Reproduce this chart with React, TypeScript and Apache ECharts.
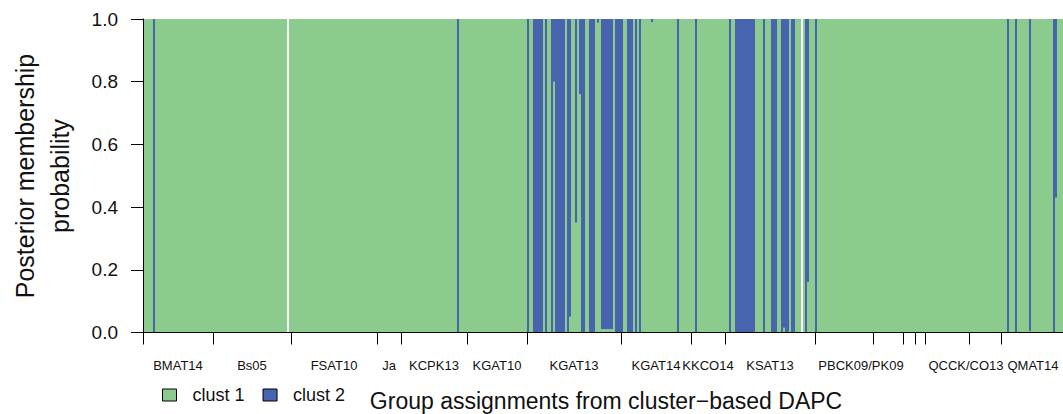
import React, { useEffect, useRef } from "react";
import * as echarts from "echarts";

// ---- data ----
const N_INDIVIDUALS = 460;
// runs of individuals with non-zero clust 2 membership: [first index, count, clust 2 probability]
const clust2Runs: [number, number, number][] = [
  [5, 1, 1],
  [157, 1, 1],
  [192, 1, 1],
  [195, 5, 1],
  [201, 1, 1],
  [204, 1, 1],
  [205, 1, 0.2],
  [206, 5, 1],
  [212, 1, 1],
  [213, 1, 0.95],
  [216, 1, 0.65],
  [218, 1, 0.24],
  [219, 2, 1],
  [223, 3, 1],
  [227, 1, 0.012],
  [229, 6, 0.99],
  [236, 4, 1],
  [242, 3, 1],
  [246, 1, 1],
  [248, 1, 1],
  [254, 1, 0.01],
  [267, 1, 1],
  [276, 1, 1],
  [293, 1, 1],
  [296, 10, 1],
  [310, 1, 1],
  [314, 3, 1],
  [319, 1, 1],
  [320, 1, 0.985],
  [321, 2, 1],
  [324, 2, 1],
  [331, 1, 1],
  [332, 1, 0.84],
  [336, 1, 1],
  [432, 1, 1],
  [436, 1, 1],
  [443, 1, 0.996],
  [455, 1, 1],
  [456, 1, 0.57],
];
// individuals without membership values (white gaps)
const missingIndividuals = [72, 329];

const groupBoundaries = [0, 35, 74, 117, 129, 162, 192, 239, 274, 291, 336, 365, 380, 386, 391, 413, 429, 460];
const groupLabels = [
  "BMAT14", "Bs05", "FSAT10", "Ja", "KCPK13", "KGAT10", "KGAT13",
  "KGAT14", "KKCO14", "KSAT13", "PBCK09/PK09", "QCCK/CO13", "QMAT14",
];
const groupLabelPositions = [17.5, 54.5, 95.5, 123, 145.5, 177, 215.5, 256.5, 282.5, 313.5, 359, 411.5, 445];

const seriesNames = ["clust 1", "clust 2"];
const seriesColors = ["#8ccb8e", "#4964ae"];

const FONT = '"Liberation Sans", Arial, Helvetica, sans-serif';

function buildData() {
  const clust2: (number | null)[] = new Array(N_INDIVIDUALS).fill(0);
  clust2Runs.forEach(([start, count, p]) => {
    for (let i = start; i < start + count; i++) clust2[i] = p;
  });
  const clust1: (number | null)[] = clust2.map((p) => 1 - (p as number));
  missingIndividuals.forEach((i) => {
    clust1[i] = 0;
    clust2[i] = 0;
  });
  const categories = clust2.map((_, i) => String(i + 1));
  return { categories, clust1, clust2 };
}

export default function App() {
  const ref = useRef<HTMLDivElement>(null);

  useEffect(() => {
    if (!ref.current) return;
    const chart = echarts.init(ref.current, undefined, { renderer: "svg" });
    const { categories, clust1, clust2 } = buildData();

    const option: any = {
      animation: false,
      grid: { left: 143, top: 19, width: 920, height: 313.5, containLabel: false },
      legend: {
        data: seriesNames,
        left: 157,
        top: 381,
        icon: "rect",
        itemWidth: 14,
        itemHeight: 12,
        itemGap: 18,
        itemStyle: { borderColor: "#000", borderWidth: 1 },
        textStyle: { fontSize: 18, color: "#111", fontFamily: FONT, padding: [0, 0, 0, 11] },
      },
      xAxis: [
        {
          type: "category",
          data: categories,
          show: false,
          boundaryGap: true,
        },
        {
          type: "value",
          min: 0,
          max: N_INDIVIDUALS,
          position: "bottom",
          z: 10,
          axisLine: { show: true, onZero: false, lineStyle: { color: "#000", width: 1 } },
          axisTick: {
            show: true,
            length: 12,
            customValues: groupBoundaries,
            lineStyle: { color: "#000", width: 1 },
          },
          axisLabel: {
            show: true,
            customValues: groupLabelPositions,
            formatter: (v: number) => {
              const k = groupLabelPositions.findIndex((p) => Math.abs(p - v) < 1e-6);
              return k >= 0 ? groupLabels[k] : "";
            },
            fontSize: 13,
            margin: 26,
            color: "#111",
            fontFamily: FONT,
          },
          splitLine: { show: false },
        },
      ],
      yAxis: {
        type: "value",
        min: 0,
        max: 1,
        interval: 0.2,
        z: 10,
        axisLine: { show: true, lineStyle: { color: "#000", width: 1 } },
        axisTick: { show: true, length: 12, lineStyle: { color: "#000", width: 1 } },
        axisLabel: {
          formatter: (v: number) => v.toFixed(1),
          fontSize: 19,
          margin: 25,
          color: "#111",
          fontFamily: FONT,
        },
        splitLine: { show: false },
      },
      series: [
        {
          type: "bar",
          name: seriesNames[0],
          stack: "membership",
          data: clust1,
          xAxisIndex: 0,
          barWidth: "100%",
          barCategoryGap: "0%",
          itemStyle: { color: seriesColors[0] },
        },
        {
          type: "bar",
          name: seriesNames[1],
          stack: "membership",
          data: clust2,
          xAxisIndex: 0,
          barWidth: "100%",
          barCategoryGap: "0%",
          itemStyle: { color: seriesColors[1] },
        },
      ],
      graphic: [
        {
          type: "text",
          x: 42,
          y: 176,
          rotation: Math.PI / 2,
          style: {
            text: "Posterior membership\nprobability",
            fontSize: 25,
            fontFamily: FONT,
            fill: "#111",
            align: "center",
            verticalAlign: "middle",
            textAlign: "center",
            textVerticalAlign: "middle",
            lineHeight: 35,
          },
        },
        {
          type: "text",
          x: 606,
          y: 401,
          style: {
            text: "Group assignments from cluster\u2212based DAPC",
            fontSize: 23,
            fontFamily: FONT,
            fill: "#111",
            align: "center",
            verticalAlign: "middle",
            textAlign: "center",
            textVerticalAlign: "middle",
          },
        },
      ],
    };

    chart.setOption(option);
    return () => chart.dispose();
  }, []);

  return (
    <div
      ref={ref}
      style={{ position: "absolute", left: 0, top: 0, width: 1063, height: 414 }}
    />
  );
}
